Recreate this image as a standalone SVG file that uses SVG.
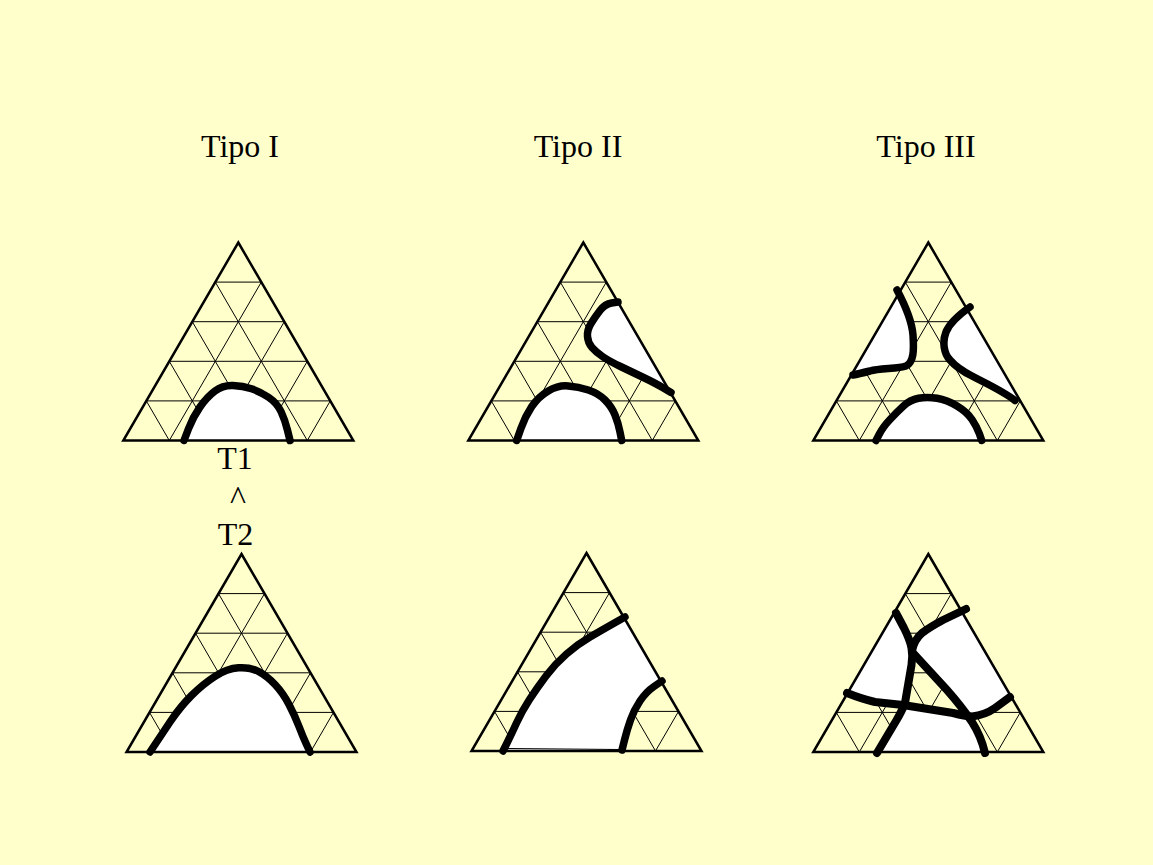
<svg xmlns="http://www.w3.org/2000/svg" xmlns:xlink="http://www.w3.org/1999/xlink" width="1153" height="865" viewBox="0 0 1153 865">
<style>
.bg{fill:#FFFFCC}
.grid{stroke:#000;stroke-width:1;fill:none}
.outline{stroke:#000;stroke-width:2.5;fill:none;stroke-linejoin:miter}
.tri{fill:#FFFFCC;stroke:none}
.hole{fill:#FFFFFF;stroke:none}
.curve{fill:none;stroke:#000;stroke-width:7.5;stroke-linecap:round;stroke-linejoin:round}
.thick{stroke-width:8}
.lbl{font-family:"Liberation Serif","Times New Roman",serif;font-size:32px;fill:#000;text-anchor:middle}
</style>
<defs>
<g id="triGrid">
<polygon class="tri" points="115,0 230,198 0,198"/>
<path class="grid" d="M92,39.6H138M69,79.2H161M46,118.8H184M23,158.4H207M23,158.4L46,198M46,118.8L92,198M69,79.2L138,198M92,39.6L184,198M207,158.4L184,198M184,118.8L138,198M161,79.2L92,198M138,39.6L46,198"/>
</g>
<polygon id="triOutline" class="outline" points="115,0 230,198 0,198"/>
</defs>
<rect class="bg" x="0" y="0" width="1153" height="865"/>

<g id="titles">
<text class="lbl" x="240" y="157">Tipo I</text>
<text class="lbl" x="578" y="157">Tipo II</text>
<text class="lbl" x="926" y="157">Tipo III</text>
</g>

<g id="temps">
<text class="lbl" x="235" y="469">T1</text>
<text class="lbl" x="238" y="509" style="font-size:34px">^</text>
<text class="lbl" x="235.5" y="545">T2</text>
</g>

<g id="tipoI-T1">
<use xlink:href="#triGrid" transform="translate(123.3,242.5)"/>
<path class="hole" d="M184,440.5 L188.5,428.75 Q193,417 200,407 Q207,397 215,391 Q223,385 233,385.5 Q243,386 251.5,388.75 Q260,391.5 268.5,397.25 Q277,403 281,411.5 Q285,420 287.5,430.25 L290,440.5 Z"/>
<use xlink:href="#triOutline" transform="translate(123.3,242.5)"/>
<path class="curve" d="M184,440.5 L188.5,428.75 Q193,417 200,407 Q207,397 215,391 Q223,385 233,385.5 Q243,386 251.5,388.75 Q260,391.5 268.5,397.25 Q277,403 281,411.5 Q285,420 287.5,430.25 L290,440.5"/>
</g>

<g id="tipoII-T1">
<use xlink:href="#triGrid" transform="translate(468.3,242.5)"/>
<path class="hole" d="M516.7,440.5 L520.9,428.6 Q525,416.7 531.7,406.7 Q538.3,396.7 548.3,390.9 Q558.3,385 568.3,385.9 Q578.3,386.7 588.3,390 Q598.3,393.3 605,400 Q611.7,406.7 615,415 Q618.3,423.3 620,431.9 L621.7,440.5 Z"/>
<path class="hole" d="M618,302 L611.5,303 Q605,304 600,310.5 Q595,317 591,323.5 Q587,330 587.5,336.5 Q588,343 592,347.5 Q596,352 602.5,356.5 Q609,361 620.5,366.5 Q632,372 643.5,377.5 Q655,383 663,387.75 L671,392.5 L670.4,392.5 L617.9,302 Z"/>
<use xlink:href="#triOutline" transform="translate(468.3,242.5)"/>
<path class="curve" d="M516.7,440.5 L520.9,428.6 Q525,416.7 531.7,406.7 Q538.3,396.7 548.3,390.9 Q558.3,385 568.3,385.9 Q578.3,386.7 588.3,390 Q598.3,393.3 605,400 Q611.7,406.7 615,415 Q618.3,423.3 620,431.9 L621.7,440.5"/>
<path class="curve" d="M618,302 L611.5,303 Q605,304 600,310.5 Q595,317 591,323.5 Q587,330 587.5,336.5 Q588,343 592,347.5 Q596,352 602.5,356.5 Q609,361 620.5,366.5 Q632,372 643.5,377.5 Q655,383 663,387.75 L671,392.5"/>
</g>

<g id="tipoIII-T1">
<use xlink:href="#triGrid" transform="translate(813.3,242.5)"/>
<path class="hole" d="M900.7,290 L897,290 C905,305 912,322 913,335 C914,350 914,362 906,366 C898,369 880,368 870,371 C862,373 858,374 853,375 L851.3,375 Z"/>
<path class="hole" d="M970,307 C960,314 950,322 946,332 C942,342 944,354 950,360 C956,367 962,371 972,376 C985,383 1003,391 1015,400.5 L1020.1,400.5 L965.8,307 Z"/>
<path class="hole" d="M876,440.5 L879.5,433.8 Q883,427 890,419.5 Q897,412 903.5,406 Q910,400 918.5,398.3 Q927,396.5 937,398.3 Q947,400 957,406 Q967,412 972,419.5 Q977,427 979.4,433.8 L981.7,440.5 Z"/>
<use xlink:href="#triOutline" transform="translate(813.3,242.5)"/>
<path class="curve" d="M897,290 C905,305 912,322 913,335 C914,350 914,362 906,366 C898,369 880,368 870,371 C862,373 858,374 853,375"/>
<path class="curve" d="M970,307 C960,314 950,322 946,332 C942,342 944,354 950,360 C956,367 962,371 972,376 C985,383 1003,391 1015,400.5"/>
<path class="curve" d="M876,440.5 L879.5,433.8 Q883,427 890,419.5 Q897,412 903.5,406 Q910,400 918.5,398.3 Q927,396.5 937,398.3 Q947,400 957,406 Q967,412 972,419.5 Q977,427 979.4,433.8 L981.7,440.5"/>
</g>

<g id="tipoI-T2">
<use xlink:href="#triGrid" transform="translate(126.5,554)"/>
<path class="hole" d="M150,752 L155,744.5 Q160,737 170,722 Q180,707 191.5,695.5 Q203,684 215,676.3 Q227,668.5 238.5,667.8 Q250,667 258.5,671.5 Q267,676 275,684.5 Q283,693 289,704.5 Q295,716 299,726.5 Q303,737 306.5,744.5 L310,752 Z"/>
<use xlink:href="#triOutline" transform="translate(126.5,554)"/>
<path class="curve" d="M150,752 L155,744.5 Q160,737 170,722 Q180,707 191.5,695.5 Q203,684 215,676.3 Q227,668.5 238.5,667.8 Q250,667 258.5,671.5 Q267,676 275,684.5 Q283,693 289,704.5 Q295,716 299,726.5 Q303,737 306.5,744.5 L310,752"/>
</g>

<g id="tipoII-T2">
<use xlink:href="#triGrid" transform="translate(471.5,553)"/>
<path class="hole" d="M503,751 L507,743 Q511,735 516.5,723 Q522,711 529.5,699.5 Q537,688 546,676 Q555,664 566.5,654 Q578,644 590,637 Q602,630 613.5,623.5 L625,617 L623.7,617 L660.8,681 L662,681 L654,686.5 Q646,692 640,701 Q634,710 630.5,720 Q627,730 624.5,740 L622,749 Z"/>
<use xlink:href="#triOutline" transform="translate(471.5,553)"/>
<path d="M506,748.5 L620,749.5" stroke="#000" stroke-width="1.2" fill="none"/>
<path class="curve" d="M503,751 L507,743 Q511,735 516.5,723 Q522,711 529.5,699.5 Q537,688 546,676 Q555,664 566.5,654 Q578,644 590,637 Q602,630 613.5,623.5 L625,617"/>
<path class="curve" d="M662,681 L654,686.5 Q646,692 640,701 Q634,710 630.5,720 Q627,730 624.5,740 L622,750"/>
</g>

<g id="tipoIII-T2">
<use xlink:href="#triGrid" transform="translate(813.3,554)"/>
<path class="hole" d="M894,613 L848,693 Q862,699 875,702 L905,704 L911.5,665 Q913,656 911.5,648 Q910,640 904,628 Z"/>
<path class="hole" d="M960.2,609 L1011.4,697 L995,708 Q985,715 968,716 L947,690 L913,653 L912,651 Q914,640 922,633 Q930,627 943,620 L966,609 Z"/>
<path class="hole" d="M903,705 L953,713 L968,716 Q981,736 985,752 L877,752 L896,721 Q902,711 905,704 Z"/>
<use xlink:href="#triOutline" transform="translate(813.3,554)"/>
<path class="curve thick" d="M896,613 L904,628 Q910,640 911.5,648 Q913,656 911.5,665 L905,703 Q902,711 896,721 L877,753"/>
<path class="curve thick" d="M966,609 L943,620 Q930,627 922,633 Q914,640 912,651"/>
<path class="curve thick" d="M913,653 L947,690 Q962,707 972,722 Q981,736 985,753"/>
<path class="curve thick" d="M847,693 Q862,699 875,702 L903,705 L953,713 Q965,716 972,716.5 Q985,715 995,708 L1010,697"/>
</g>
</svg>
